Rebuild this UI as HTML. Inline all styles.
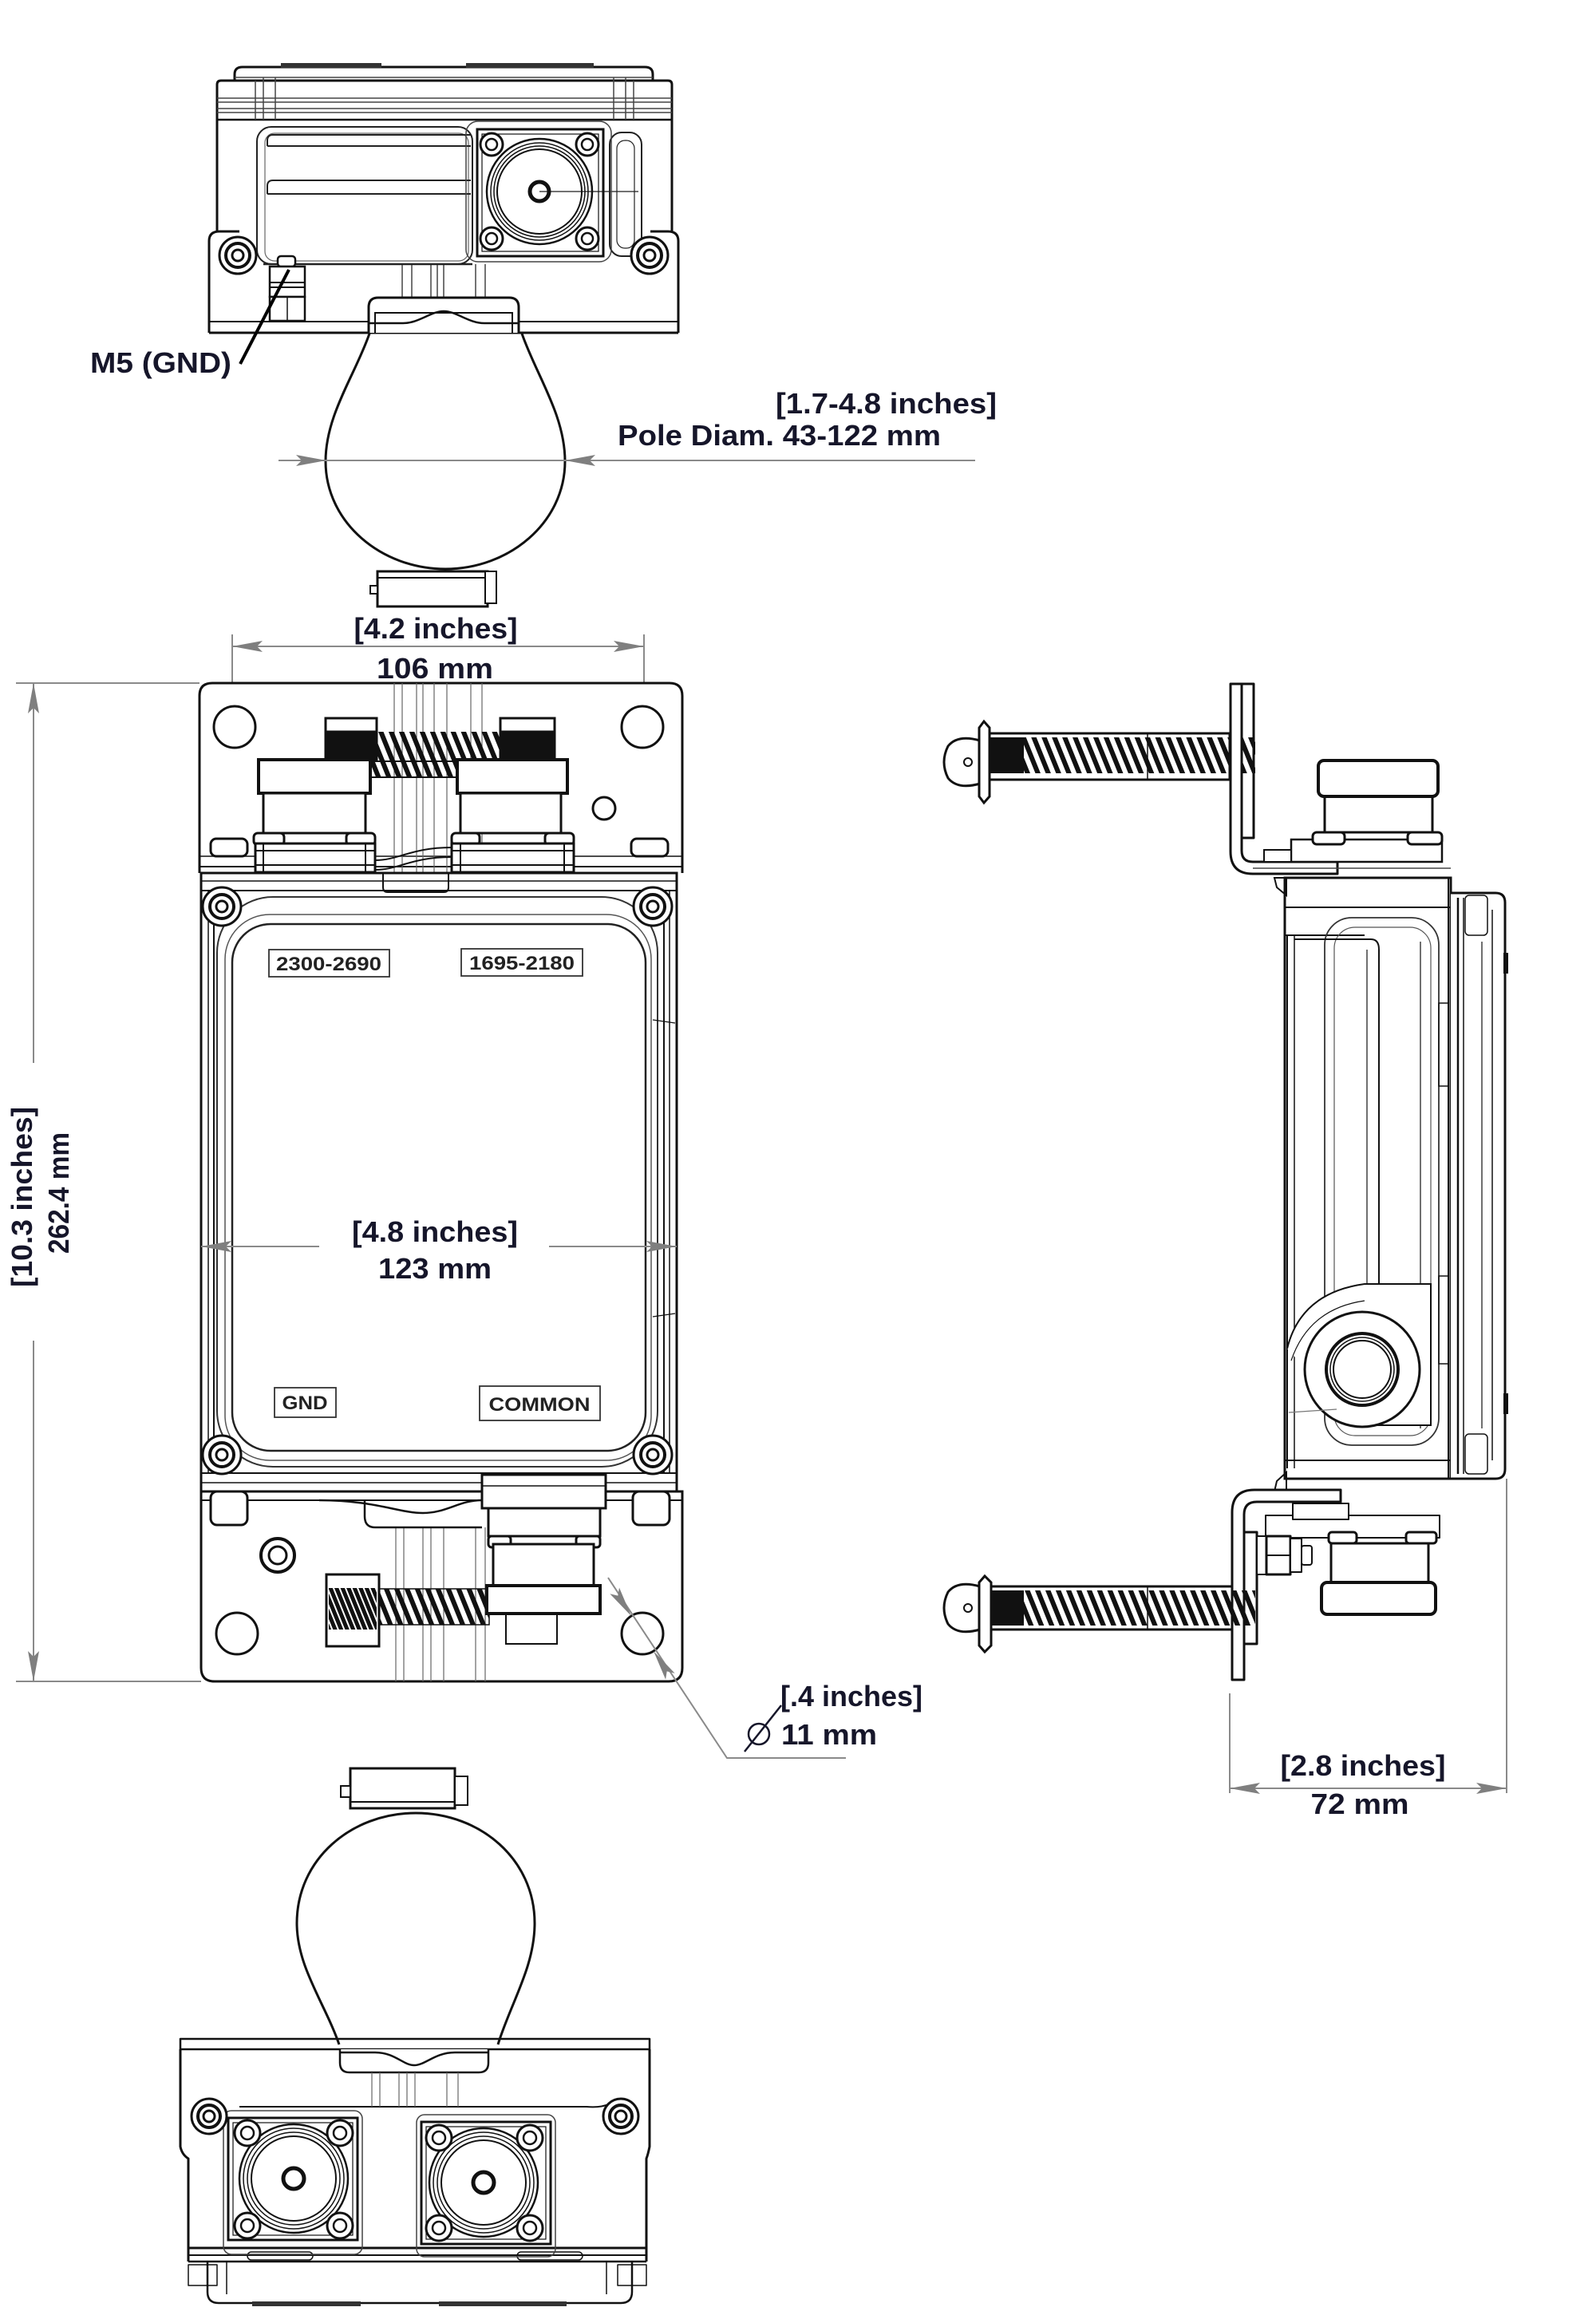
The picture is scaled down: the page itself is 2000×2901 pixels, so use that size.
<!DOCTYPE html>
<html><head><meta charset="utf-8">
<style>
html,body{margin:0;padding:0;background:#fff;}
svg{display:block;}
text{font-family:"Liberation Sans",Arial,sans-serif;font-weight:bold;fill:#16162a;}
.lbl{font-size:24px;fill:#222;}
.dim{font-size:36px;}
</style></head><body>
<svg width="2000" height="2901" viewBox="0 0 2000 2901" xmlns="http://www.w3.org/2000/svg">
<defs>
<pattern id="hatch" patternUnits="userSpaceOnUse" width="12" height="12" patternTransform="rotate(-22)">
<rect x="0" y="0" width="6" height="12" fill="#111"/>
</pattern>
<pattern id="hatchD" patternUnits="userSpaceOnUse" width="7" height="7" patternTransform="rotate(-22)">
<rect x="0" y="0" width="5" height="7" fill="#111"/>
</pattern>
</defs>

<!-- ================= TOP VIEW ================= -->
<g fill="none" stroke="#111" stroke-width="3" stroke-linejoin="round">
 <path d="M294,101 V93 Q294,84 304,84 H808 Q818,84 818,93 V101"/>
 <path d="M272,290 V106 Q272,101 277,101 H837 Q842,101 842,106 V290"/>
 <path d="M262,417 V302 Q262,290 275,290 H300"/>
 <path d="M850,417 V302 Q850,290 837,290 H815"/>
 <line x1="262" y1="417" x2="850" y2="417"/>
 <line x1="272" y1="150" x2="842" y2="150" stroke-width="2.5"/>
</g>
<rect x="352" y="79" width="126" height="6" fill="#333"/>
<rect x="584" y="79" width="160" height="6" fill="#333"/>
<g fill="none" stroke="#444" stroke-width="1.5">
 <line x1="294" y1="97" x2="818" y2="97"/>
 <line x1="272" y1="123" x2="842" y2="123"/>
 <line x1="272" y1="128" x2="842" y2="128"/>
 <line x1="272" y1="136" x2="842" y2="136"/>
 <line x1="272" y1="141" x2="842" y2="141"/>
 <line x1="320" y1="101" x2="320" y2="150"/>
 <line x1="330" y1="97" x2="330" y2="150"/>
 <line x1="345" y1="97" x2="345" y2="150"/>
 <line x1="794" y1="101" x2="794" y2="150"/>
 <line x1="784" y1="97" x2="784" y2="150"/>
 <line x1="769" y1="97" x2="769" y2="150"/>
 <line x1="262" y1="403" x2="850" y2="403" stroke="#111" stroke-width="2"/>
 <line x1="504" y1="331" x2="504" y2="373"/>
 <line x1="516" y1="331" x2="516" y2="373"/>
 <line x1="540" y1="331" x2="540" y2="373"/>
 <line x1="548" y1="331" x2="548" y2="373"/>
 <line x1="556" y1="331" x2="556" y2="373"/>
 <line x1="596" y1="331" x2="596" y2="373"/>
 <line x1="608" y1="331" x2="608" y2="373"/>
 <line x1="676" y1="240" x2="800" y2="240"/>
</g>
<!-- recess -->
<g fill="none" stroke="#222" stroke-width="2">
 <rect x="322" y="159" width="270" height="172" rx="18"/>
 <rect x="332" y="167" width="255" height="160" rx="12" stroke="#666" stroke-width="1.2"/>
 <path d="M335,183 V176 Q335,169 342,169 H590"/>
 <line x1="335" y1="183" x2="590" y2="183"/>
 <path d="M335,243 V233 Q335,226 342,226 H590"/>
 <line x1="335" y1="243" x2="590" y2="243"/>
 <line x1="330" y1="331" x2="592" y2="331" stroke-width="2.5"/>
 <rect x="764" y="166" width="40" height="155" rx="15"/>
 <rect x="773" y="176" width="22" height="135" rx="10" stroke-width="1.2"/>
</g>
<!-- connector -->
<g fill="none" stroke="#111">
 <rect x="584" y="152" width="182" height="176" rx="15" stroke-width="1.5" stroke="#444"/>
 <rect x="598" y="162" width="158" height="159" stroke-width="3"/>
 <rect x="604" y="168" width="146" height="147" stroke-width="1.2"/>
 <circle cx="676" cy="240" r="66" stroke-width="2.5"/>
 <circle cx="676" cy="240" r="61" stroke-width="1.5"/>
 <circle cx="676" cy="240" r="57" stroke-width="1.5"/>
 <circle cx="676" cy="240" r="53" stroke-width="2"/>
 <circle cx="676" cy="240" r="12" stroke-width="5"/>
 <g stroke-width="3" fill="#fff">
  <circle cx="616" cy="181" r="14"/><circle cx="736" cy="181" r="14"/>
  <circle cx="616" cy="299" r="14"/><circle cx="736" cy="299" r="14"/>
 </g>
 <g stroke-width="2.5">
  <circle cx="616" cy="181" r="7"/><circle cx="736" cy="181" r="7"/>
  <circle cx="616" cy="299" r="7"/><circle cx="736" cy="299" r="7"/>
 </g>
 <!-- ear screws -->
 <g fill="#fff">
  <circle cx="298" cy="320" r="23" stroke-width="3"/><circle cx="814" cy="320" r="23" stroke-width="3"/>
  <circle cx="298" cy="320" r="15" stroke-width="4"/><circle cx="814" cy="320" r="15" stroke-width="4"/>
  <circle cx="298" cy="320" r="7" stroke-width="3"/><circle cx="814" cy="320" r="7" stroke-width="3"/>
 </g>
 <!-- GND bolt -->
 <rect x="348" y="321" width="22" height="13" rx="4" stroke-width="2.5" fill="#fff"/>
 <rect x="338" y="334" width="44" height="38" stroke-width="2.5" fill="#fff"/>
 <line x1="338" y1="354" x2="382" y2="354" stroke-width="2"/>
 <line x1="338" y1="360" x2="382" y2="360" stroke-width="2"/>
 <rect x="338" y="372" width="44" height="30" stroke-width="2.5" fill="#fff"/>
 <line x1="360" y1="372" x2="360" y2="402" stroke-width="1.5"/>
 <!-- clamp -->
 <path d="M462,417 V385 Q462,373 474,373 H638 Q650,373 650,385 V417" stroke-width="3" fill="#fff"/>
 <path d="M470,417 V392 H642 V417" stroke-width="2"/>
 <path d="M462,405 H505 C525,405 540,390 556,390 C572,390 587,405 607,405 H650" stroke-width="2.5"/>
</g>
<!-- M5 leader -->
<line x1="301" y1="456" x2="362" y2="338" stroke="#000" stroke-width="4"/>
<text x="113" y="467" class="dim" textLength="177" lengthAdjust="spacingAndGlyphs">M5 (GND)</text>

<!-- top teardrop -->
<path d="M463,418 C445,470 408,520 408,578 C408,655 478,713 558,713 C638,713 708,655 708,578 C708,520 672,470 654,418" fill="none" stroke="#111" stroke-width="3"/>
<g fill="#fff" stroke="#111" stroke-width="3">
 <rect x="473" y="716" width="138" height="44"/>
 <rect x="464" y="734" width="9" height="10" stroke-width="2"/>
 <rect x="608" y="716" width="14" height="40" stroke-width="2"/>
</g>
<line x1="473" y1="724" x2="608" y2="724" stroke="#111" stroke-width="2"/>
<!-- pole dim -->
<line x1="349" y1="577" x2="1222" y2="577" stroke="#8a8a8a" stroke-width="2"/>
<polygon points="409,577 371,570 378,577 371,584" fill="#7f7f7f"/>
<polygon points="708,577 746,570 739,577 746,584" fill="#7f7f7f"/>
<text x="972" y="518" class="dim" textLength="277" lengthAdjust="spacingAndGlyphs">[1.7-4.8 inches]</text>
<text x="774" y="558" class="dim" textLength="405" lengthAdjust="spacingAndGlyphs">Pole Diam. 43-122 mm</text>

<!-- ================= FRONT VIEW ================= -->
<!-- 4.2 dim -->
<g stroke="#8a8a8a" stroke-width="2">
 <line x1="291" y1="810" x2="807" y2="810"/>
 <line x1="291" y1="795" x2="291" y2="911"/>
 <line x1="807" y1="795" x2="807" y2="911"/>
 <line x1="320" y1="911" x2="780" y2="911" stroke-width="1.2"/>
</g>
<polygon points="291,810 329,803 322,810 329,817" fill="#7f7f7f"/>
<polygon points="807,810 769,803 776,810 769,817" fill="#7f7f7f"/>
<text x="546" y="800" class="dim" text-anchor="middle" textLength="205" lengthAdjust="spacingAndGlyphs">[4.2 inches]</text>
<text x="545" y="850" class="dim" text-anchor="middle" textLength="146" lengthAdjust="spacingAndGlyphs">106 mm</text>

<!-- height dim -->
<g stroke="#8a8a8a" stroke-width="2">
 <line x1="20" y1="856" x2="250" y2="856"/>
 <line x1="20" y1="2107" x2="252" y2="2107"/>
 <line x1="42" y1="856" x2="42" y2="1332"/>
 <line x1="42" y1="1680" x2="42" y2="2107"/>
</g>
<polygon points="42,856 35,894 42,887 49,894" fill="#7f7f7f"/>
<polygon points="42,2107 35,2069 42,2076 49,2069" fill="#7f7f7f"/>
<text transform="translate(40,1500) rotate(-90)" class="dim" text-anchor="middle" textLength="226" lengthAdjust="spacingAndGlyphs">[10.3 inches]</text>
<text transform="translate(86,1495) rotate(-90)" class="dim" text-anchor="middle" textLength="152" lengthAdjust="spacingAndGlyphs">262.4 mm</text>

<!-- top plate -->
<g fill="none" stroke="#111" stroke-width="3">
 <path d="M250,1094 V872 Q250,856 266,856 H839 Q855,856 855,872 V1094" fill="#fff"/>
 <line x1="250" y1="1073" x2="855" y2="1073" stroke-width="1.5"/>
 <line x1="250" y1="1086" x2="855" y2="1086" stroke-width="2"/>
 <circle cx="294" cy="911" r="26"/>
 <circle cx="805" cy="911" r="26"/>
 <circle cx="757" cy="1013" r="14"/>
</g>
<g stroke="#666" stroke-width="1.2">
 <line x1="494" y1="856" x2="494" y2="1094"/><line x1="504" y1="856" x2="504" y2="1094"/>
 <line x1="522" y1="856" x2="522" y2="1094"/><line x1="530" y1="856" x2="530" y2="1094"/>
 <line x1="544" y1="856" x2="544" y2="1094"/><line x1="560" y1="856" x2="560" y2="1094"/>
 <line x1="590" y1="856" x2="590" y2="1094"/><line x1="604" y1="856" x2="604" y2="1094"/>
</g>
<!-- spring top -->
<rect x="466" y="917" width="171" height="57" fill="url(#hatch)"/>
<rect x="464" y="954" width="109" height="20" fill="none" stroke="#111" stroke-width="2"/>
<g stroke="#111" stroke-width="3">
 <rect x="408" y="900" width="64" height="53" fill="#fff"/>
 <rect x="410" y="917" width="60" height="36" fill="#111"/>
 <rect x="627" y="900" width="68" height="53" fill="#fff"/>
 <rect x="629" y="917" width="64" height="36" fill="#111"/>
 <rect x="324" y="952" width="140" height="42" fill="#fff" stroke-width="4"/>
 <rect x="573" y="952" width="138" height="42" fill="#fff" stroke-width="4"/>
 <rect x="330" y="994" width="128" height="50" fill="#fff"/>
 <rect x="577" y="994" width="126" height="50" fill="#fff"/>
 <rect x="318" y="1044" width="38" height="15" rx="5" fill="#fff"/>
 <rect x="434" y="1044" width="36" height="15" rx="5" fill="#fff"/>
 <rect x="566" y="1044" width="35" height="15" rx="5" fill="#fff"/>
 <rect x="683" y="1044" width="36" height="15" rx="5" fill="#fff"/>
 <rect x="320" y="1057" width="150" height="36" fill="#fff"/>
 <rect x="566" y="1057" width="153" height="36" fill="#fff"/>
 <rect x="264" y="1051" width="46" height="22" rx="7" fill="#fff"/>
 <rect x="791" y="1051" width="46" height="22" rx="7" fill="#fff"/>
</g>
<g stroke="#111" stroke-width="2" fill="none">
 <line x1="320" y1="1066" x2="470" y2="1066"/><line x1="320" y1="1084" x2="470" y2="1084"/>
 <line x1="566" y1="1066" x2="719" y2="1066"/><line x1="566" y1="1084" x2="719" y2="1084"/>
 <line x1="330" y1="1057" x2="330" y2="1093"/><line x1="458" y1="1057" x2="458" y2="1093"/>
 <line x1="577" y1="1057" x2="577" y2="1093"/><line x1="707" y1="1057" x2="707" y2="1093"/>
 <path d="M470,1078 C500,1078 515,1062 566,1062"/>
 <path d="M470,1090 C500,1090 515,1074 566,1074"/>
 <path d="M480,1093 V1112 Q480,1118 486,1118 H556 Q562,1118 562,1112 V1093"/>
</g>

<!-- housing -->
<g fill="none" stroke="#111">
 <rect x="252" y="1094" width="596" height="777" stroke-width="3"/>
 <line x1="252" y1="1104" x2="848" y2="1104" stroke-width="1.5"/>
 <line x1="252" y1="1116" x2="848" y2="1116" stroke-width="2"/>
 <line x1="252" y1="1846" x2="848" y2="1846" stroke-width="2"/>
 <line x1="252" y1="1858" x2="848" y2="1858" stroke-width="1.5"/>
 <line x1="261" y1="1116" x2="261" y2="1846" stroke-width="1.5"/>
 <line x1="268" y1="1116" x2="268" y2="1846" stroke-width="2"/>
 <line x1="832" y1="1116" x2="832" y2="1846" stroke-width="2"/>
 <line x1="839" y1="1116" x2="839" y2="1846" stroke-width="1.5"/>
 <rect x="272" y="1124" width="552" height="714" rx="70" stroke-width="2" stroke="#333"/>
 <rect x="282" y="1146" width="534" height="684" rx="56" stroke-width="1.5" stroke="#555"/>
 <rect x="291" y="1158" width="518" height="660" rx="48" stroke-width="2.5" stroke="#222"/>
 <line x1="818" y1="1278" x2="846" y2="1282" stroke-width="1.2"/>
 <line x1="818" y1="1650" x2="846" y2="1646" stroke-width="1.2"/>
 <g fill="#fff">
  <circle cx="278" cy="1136" r="24" stroke-width="3"/><circle cx="818" cy="1136" r="24" stroke-width="3"/>
  <circle cx="278" cy="1823" r="24" stroke-width="3"/><circle cx="818" cy="1823" r="24" stroke-width="3"/>
  <circle cx="278" cy="1136" r="15" stroke-width="4"/><circle cx="818" cy="1136" r="15" stroke-width="4"/>
  <circle cx="278" cy="1823" r="15" stroke-width="4"/><circle cx="818" cy="1823" r="15" stroke-width="4"/>
  <circle cx="278" cy="1136" r="7" stroke-width="3"/><circle cx="818" cy="1136" r="7" stroke-width="3"/>
  <circle cx="278" cy="1823" r="7" stroke-width="3"/><circle cx="818" cy="1823" r="7" stroke-width="3"/>
 </g>
</g>
<!-- labels -->
<g fill="#fff" stroke="#333" stroke-width="1.8">
 <rect x="337" y="1190" width="151" height="34"/>
 <rect x="578" y="1189" width="152" height="34"/>
 <rect x="344" y="1739" width="77" height="37"/>
 <rect x="601" y="1737" width="151" height="43"/>
</g>
<text x="412" y="1216" class="lbl" text-anchor="middle" textLength="132" lengthAdjust="spacingAndGlyphs">2300-2690</text>
<text x="654" y="1215" class="lbl" text-anchor="middle" textLength="132" lengthAdjust="spacingAndGlyphs">1695-2180</text>
<text x="382" y="1766" class="lbl" text-anchor="middle" textLength="57" lengthAdjust="spacingAndGlyphs">GND</text>
<text x="676" y="1768" class="lbl" text-anchor="middle" textLength="127" lengthAdjust="spacingAndGlyphs">COMMON</text>
<!-- 4.8 dim -->
<g stroke="#8a8a8a" stroke-width="2">
 <line x1="252" y1="1562" x2="400" y2="1562"/>
 <line x1="688" y1="1562" x2="848" y2="1562"/>
</g>
<polygon points="252,1562 290,1555 283,1562 290,1569" fill="#7f7f7f"/>
<polygon points="848,1562 810,1555 817,1562 810,1569" fill="#7f7f7f"/>
<text x="545" y="1556" class="dim" text-anchor="middle" textLength="208" lengthAdjust="spacingAndGlyphs">[4.8 inches]</text>
<text x="545" y="1602" class="dim" text-anchor="middle" textLength="142" lengthAdjust="spacingAndGlyphs">123 mm</text>

<!-- bottom plate -->
<g fill="none" stroke="#111" stroke-width="3">
 <path d="M252,1869 V2090 Q252,2107 269,2107 H838 Q855,2107 855,2090 V1869 Z" fill="#fff"/>
 <line x1="252" y1="1880" x2="855" y2="1880" stroke-width="2"/>
 <circle cx="297" cy="2047" r="26"/>
 <circle cx="805" cy="2047" r="26"/>
 <circle cx="348" cy="1949" r="21" stroke-width="4"/>
 <circle cx="348" cy="1949" r="11"/>
</g>
<g stroke="#666" stroke-width="1.2">
 <line x1="496" y1="1914" x2="496" y2="2107"/><line x1="506" y1="1914" x2="506" y2="2107"/>
 <line x1="530" y1="1914" x2="530" y2="2107"/><line x1="540" y1="1914" x2="540" y2="2107"/>
 <line x1="556" y1="1914" x2="556" y2="2107"/><line x1="596" y1="1914" x2="596" y2="2107"/>
 <line x1="608" y1="1914" x2="608" y2="2107"/>
</g>
<g fill="#fff" stroke="#111" stroke-width="3">
 <rect x="264" y="1869" width="46" height="42" rx="8"/>
 <rect x="793" y="1869" width="46" height="42" rx="8"/>
 <path d="M457,1880 V1900 Q457,1914 470,1914 H604" fill="none" stroke-width="2.5"/>
 <rect x="604" y="1848" width="155" height="42"/>
 <rect x="612" y="1890" width="140" height="35"/>
 <rect x="612" y="1925" width="28" height="14" rx="4"/>
 <rect x="722" y="1925" width="30" height="14" rx="4"/>
 <rect x="618" y="1935" width="126" height="52"/>
 <rect x="634" y="2022" width="64" height="38" stroke-width="2"/>
</g>
<path d="M400,1880 C470,1880 500,1896 530,1896 C560,1896 575,1880 604,1880" fill="none" stroke="#111" stroke-width="2.5"/>
<line x1="604" y1="1862" x2="759" y2="1862" stroke="#111" stroke-width="1.5"/>
<rect x="475" y="1991" width="138" height="45" fill="url(#hatch)"/>
<rect x="475" y="1991" width="138" height="45" fill="none" stroke="#111" stroke-width="1.5"/>
<rect x="409" y="1973" width="66" height="90" fill="#fff" stroke="#111" stroke-width="3"/>
<rect x="412" y="1990" width="60" height="52" fill="url(#hatchD)"/>
<rect x="610" y="1987" width="142" height="35" fill="#fff" stroke="#111" stroke-width="4"/>

<!-- hole dim -->
<polyline points="762,1977 911,2203 1060,2203" fill="none" stroke="#8a8a8a" stroke-width="2"/>
<polygon points="791,2025 764.3,1997.2 774.3,1999.6 776,1989.5" fill="#7f7f7f"/>
<polygon points="819,2069 845.7,2096.9 835.7,2094.4 834.1,2104.6" fill="#7f7f7f"/>
<text x="978" y="2138" class="dim" textLength="178" lengthAdjust="spacingAndGlyphs">[.4 inches]</text>
<circle cx="951" cy="2173" r="13" fill="none" stroke="#16162a" stroke-width="2.5"/>
<line x1="933" y1="2195" x2="979" y2="2137" stroke="#16162a" stroke-width="2.5"/>
<text x="979" y="2186" class="dim" textLength="120" lengthAdjust="spacingAndGlyphs">11 mm</text>

<!-- ================= SIDE VIEW ================= -->
<!-- upper bolt -->
<g stroke="#111" stroke-width="3">
 <rect x="1240" y="919" width="301" height="58" fill="#fff"/>
 <rect x="1243" y="924" width="330" height="45" fill="url(#hatch)" stroke="none"/>
 <rect x="1241" y="924" width="42" height="45" fill="#111" stroke="none"/>
 <line x1="1438" y1="919" x2="1438" y2="977" stroke-width="1.5"/>
 <path d="M1228,928 Q1200,920 1188,935 Q1178,955 1188,975 Q1200,990 1228,982 Z" fill="#fff"/>
 <circle cx="1213" cy="955" r="5" fill="none" stroke-width="2"/>
 <path d="M1227,912 L1233,904 L1240,912 V998 L1233,1006 L1227,998 Z" fill="#fff"/>
</g>
<!-- upper bracket -->
<g fill="#fff" stroke="#111" stroke-width="3" stroke-linejoin="round">
 <path d="M1542,857 H1556 V1066 Q1556,1080 1570,1080 H1676 V1095 H1570 Q1542,1095 1542,1067 Z"/>
 <rect x="1556" y="857" width="15" height="193"/>
</g>
<rect x="1556" y="924" width="15" height="45" fill="url(#hatch)"/>
<!-- top connector side -->
<g fill="#fff" stroke="#111" stroke-width="3">
 <rect x="1618" y="1052" width="189" height="28" stroke-width="2.5"/>
 <rect x="1584" y="1065" width="34" height="15" stroke-width="2"/>
 <rect x="1645" y="1043" width="40" height="15" rx="5"/>
 <rect x="1764" y="1043" width="43" height="15" rx="5"/>
 <rect x="1660" y="996" width="135" height="47"/>
 <rect x="1652" y="953" width="150" height="45" rx="7" stroke-width="4"/>
</g>
<line x1="1570" y1="1088" x2="1818" y2="1088" stroke="#444" stroke-width="1.5"/>
<!-- body -->
<g fill="none" stroke="#111">
 <rect x="1610" y="1100" width="208" height="753" stroke-width="3" fill="#fff"/>
 <line x1="1613" y1="1172" x2="1613" y2="1840" stroke-width="2"/>
 <line x1="1622" y1="1172" x2="1622" y2="1840" stroke-width="1.5"/>
 <line x1="1610" y1="1137" x2="1818" y2="1137" stroke-width="2"/>
 <line x1="1610" y1="1172" x2="1710" y2="1172" stroke-width="2"/>
 <line x1="1610" y1="1830" x2="1818" y2="1830" stroke-width="2"/>
 <path d="M1597,1100 H1612 V1122 L1600,1112 Z" stroke-width="2"/>
 <path d="M1597,1869 H1612 V1845 L1600,1856 Z" stroke-width="2"/>
 <rect x="1660" y="1150" width="143" height="661" rx="34" stroke-width="1.8" stroke="#333"/>
 <rect x="1672" y="1162" width="121" height="637" rx="26" stroke-width="1.2" stroke="#555"/>
 <path d="M1622,1177 H1718 Q1728,1177 1728,1190 V1612" stroke-width="2"/>
 <line x1="1713" y1="1190" x2="1713" y2="1612" stroke-width="1.2"/>
 <line x1="1780" y1="1180" x2="1780" y2="1790" stroke-width="1.2"/>
 <line x1="1815" y1="1100" x2="1815" y2="1853" stroke-width="2"/>
 <rect x="1803" y="1257" width="12" height="104" stroke-width="1.5"/>
 <rect x="1803" y="1599" width="12" height="110" stroke-width="1.5"/>
 <path d="M1613,1690 Q1630,1620 1710,1609 H1793 V1786 H1700" stroke-width="2" fill="#fff"/>
 <path d="M1618,1705 Q1640,1640 1710,1630" stroke-width="1.2"/>
 <circle cx="1707" cy="1716" r="72" stroke-width="3" fill="#fff"/>
 <circle cx="1707" cy="1716" r="45" stroke-width="4"/>
 <circle cx="1707" cy="1716" r="40" stroke-width="1.5"/>
 <circle cx="1707" cy="1716" r="36" stroke-width="2"/>
 <line x1="1615" y1="1770" x2="1675" y2="1766" stroke-width="1.2" stroke="#777"/>
</g>
<!-- lid -->
<g fill="none" stroke="#111">
 <path d="M1818,1119 H1874 Q1886,1119 1886,1131 V1841 Q1886,1853 1874,1853 H1818" stroke-width="3" fill="#fff"/>
 <line x1="1827" y1="1125" x2="1827" y2="1847" stroke-width="2.5"/>
 <line x1="1834" y1="1125" x2="1834" y2="1847" stroke-width="1.5"/>
 <line x1="1857" y1="1180" x2="1857" y2="1790" stroke-width="1.2"/>
 <line x1="1870" y1="1140" x2="1870" y2="1830" stroke-width="1.5"/>
 <rect x="1836" y="1122" width="28" height="50" rx="5" stroke-width="1.5"/>
 <rect x="1836" y="1797" width="28" height="50" rx="5" stroke-width="1.5"/>
</g>
<rect x="1884" y="1194" width="6" height="26" fill="#111"/>
<rect x="1884" y="1746" width="6" height="26" fill="#111"/>

<!-- lower bracket -->
<g fill="#fff" stroke="#111" stroke-width="3" stroke-linejoin="round">
 <rect x="1586" y="1899" width="218" height="28" stroke-width="2"/>
 <rect x="1620" y="1884" width="70" height="20" stroke-width="2"/>
 <path d="M1680,1867 H1572 Q1544,1867 1544,1895 V2105 H1559 V1898 Q1559,1882 1575,1882 H1680 Z"/>
 <rect x="1559" y="1920" width="16" height="140"/>
 <rect x="1575" y="1925" width="12" height="48" stroke-width="2"/>
 <rect x="1587" y="1925" width="30" height="48" stroke-width="3"/>
 <line x1="1587" y1="1949" x2="1617" y2="1949" stroke-width="2"/>
 <rect x="1617" y="1928" width="14" height="42" stroke-width="2"/>
 <rect x="1631" y="1937" width="13" height="24" rx="3" stroke-width="2"/>
 <rect x="1665" y="1920" width="35" height="14" rx="4"/>
 <rect x="1762" y="1920" width="38" height="14" rx="4"/>
 <rect x="1668" y="1934" width="122" height="50"/>
 <rect x="1656" y="1983" width="143" height="40" rx="7" stroke-width="4"/>
</g>
<!-- lower bolt -->
<g stroke="#111" stroke-width="3">
 <rect x="1242" y="1988" width="302" height="54" fill="#fff"/>
 <rect x="1245" y="1993" width="328" height="44" fill="url(#hatch)" stroke="none"/>
 <rect x="1243" y="1993" width="40" height="44" fill="#111" stroke="none"/>
 <line x1="1438" y1="1988" x2="1438" y2="2042" stroke-width="1.5"/>
 <path d="M1228,1988 Q1200,1980 1188,1995 Q1178,2015 1188,2035 Q1200,2050 1228,2042 Z" fill="#fff"/>
 <circle cx="1213" cy="2015" r="5" fill="none" stroke-width="2"/>
 <path d="M1227,1983 L1234,1975 L1242,1983 V2062 L1234,2070 L1227,2062 Z" fill="#fff"/>
</g>

<!-- 2.8 dim -->
<g stroke="#8a8a8a" stroke-width="2">
 <line x1="1541" y1="2122" x2="1541" y2="2247"/>
 <line x1="1888" y1="1853" x2="1888" y2="2247"/>
 <line x1="1541" y1="2241" x2="1888" y2="2241"/>
</g>
<polygon points="1541,2241 1579,2234 1572,2241 1579,2248" fill="#7f7f7f"/>
<polygon points="1888,2241 1850,2234 1857,2241 1850,2248" fill="#7f7f7f"/>
<text x="1708" y="2225" class="dim" text-anchor="middle" textLength="207" lengthAdjust="spacingAndGlyphs">[2.8 inches]</text>
<text x="1704" y="2273" class="dim" text-anchor="middle" textLength="123" lengthAdjust="spacingAndGlyphs">72 mm</text>

<!-- ================= BOTTOM VIEW ================= -->
<g fill="#fff" stroke="#111" stroke-width="3">
 <rect x="439" y="2216" width="131" height="50"/>
 <rect x="427" y="2238" width="12" height="14" stroke-width="2"/>
 <rect x="570" y="2226" width="16" height="36" stroke-width="2"/>
</g>
<line x1="439" y1="2258" x2="570" y2="2258" stroke="#111" stroke-width="2"/>
<path d="M425,2562 C407,2510 372,2465 372,2410 C372,2330 440,2272 521,2272 C602,2272 670,2330 670,2410 C670,2465 640,2510 624,2562" fill="none" stroke="#111" stroke-width="3"/>

<g fill="none" stroke="#111" stroke-width="3" stroke-linejoin="round">
 <rect x="226" y="2555" width="588" height="13" stroke-width="2.5"/>
 <path d="M226,2568 V2690 Q228,2700 236,2705 V2834"/>
 <path d="M814,2568 V2690 Q812,2700 810,2705 V2834"/>
 <line x1="236" y1="2817" x2="810" y2="2817" stroke-width="3"/>
 <line x1="236" y1="2826" x2="810" y2="2826" stroke-width="2"/>
 <line x1="236" y1="2834" x2="810" y2="2834" stroke-width="2.5"/>
 <path d="M260,2834 V2872 Q260,2886 274,2886 H778 Q792,2886 792,2872 V2834" stroke-width="2.5"/>
 <line x1="284" y1="2834" x2="284" y2="2875" stroke-width="1.5"/>
 <line x1="760" y1="2834" x2="760" y2="2875" stroke-width="1.5"/>
 <rect x="236" y="2838" width="36" height="26" stroke-width="1.5"/>
 <rect x="774" y="2838" width="36" height="26" stroke-width="1.5"/>
 <rect x="310" y="2822" width="82" height="10" rx="5" stroke-width="1.5"/>
 <rect x="648" y="2822" width="82" height="10" rx="5" stroke-width="1.5"/>
 <path d="M426,2568 V2585 Q426,2597 438,2597 H600 Q612,2597 612,2585 V2568" stroke-width="2.5" fill="#fff"/>
 <path d="M426,2572 H470 C495,2572 505,2588 519,2588 C533,2588 545,2572 570,2572 H612" stroke-width="2.5"/>
 <path d="M300,2640 H735 Q760,2642 770,2632" stroke-width="2"/>
</g>
<rect x="316" y="2884" width="136" height="6" fill="#333"/>
<rect x="550" y="2884" width="160" height="6" fill="#333"/>
<g stroke="#666" stroke-width="1.2">
 <line x1="466" y1="2597" x2="466" y2="2640"/><line x1="476" y1="2597" x2="476" y2="2640"/>
 <line x1="500" y1="2597" x2="500" y2="2640"/><line x1="510" y1="2597" x2="510" y2="2640"/>
 <line x1="520" y1="2597" x2="520" y2="2640"/><line x1="560" y1="2597" x2="560" y2="2640"/>
 <line x1="574" y1="2597" x2="574" y2="2640"/>
</g>
<!-- bottom connectors -->
<g fill="none" stroke="#111">
 <rect x="280" y="2645" width="174" height="180" rx="10" stroke-width="1.5" stroke="#444"/>
 <rect x="522" y="2650" width="174" height="178" rx="10" stroke-width="1.5" stroke="#444"/>
 <rect x="286" y="2654" width="162" height="153" stroke-width="3"/>
 <rect x="292" y="2660" width="150" height="141" stroke-width="1.2"/>
 <rect x="528" y="2659" width="162" height="153" stroke-width="3"/>
 <rect x="534" y="2665" width="150" height="141" stroke-width="1.2"/>
 <g>
  <circle cx="368" cy="2730" r="68" stroke-width="2.5"/>
  <circle cx="368" cy="2730" r="63" stroke-width="1.5"/>
  <circle cx="368" cy="2730" r="58" stroke-width="1.5"/>
  <circle cx="368" cy="2730" r="53" stroke-width="2"/>
  <circle cx="368" cy="2730" r="13" stroke-width="5"/>
  <circle cx="606" cy="2735" r="68" stroke-width="2.5"/>
  <circle cx="606" cy="2735" r="63" stroke-width="1.5"/>
  <circle cx="606" cy="2735" r="58" stroke-width="1.5"/>
  <circle cx="606" cy="2735" r="53" stroke-width="2"/>
  <circle cx="606" cy="2735" r="13" stroke-width="5"/>
 </g>
 <g fill="#fff" stroke-width="3">
  <circle cx="310" cy="2673" r="16"/><circle cx="426" cy="2673" r="16"/>
  <circle cx="310" cy="2789" r="16"/><circle cx="426" cy="2789" r="16"/>
  <circle cx="550" cy="2679" r="16"/><circle cx="664" cy="2679" r="16"/>
  <circle cx="550" cy="2792" r="16"/><circle cx="664" cy="2792" r="16"/>
 </g>
 <g stroke-width="2.5">
  <circle cx="310" cy="2673" r="8"/><circle cx="426" cy="2673" r="8"/>
  <circle cx="310" cy="2789" r="8"/><circle cx="426" cy="2789" r="8"/>
  <circle cx="550" cy="2679" r="8"/><circle cx="664" cy="2679" r="8"/>
  <circle cx="550" cy="2792" r="8"/><circle cx="664" cy="2792" r="8"/>
 </g>
 <g fill="#fff">
  <circle cx="262" cy="2652" r="22" stroke-width="3"/><circle cx="778" cy="2652" r="22" stroke-width="3"/>
  <circle cx="262" cy="2652" r="14" stroke-width="4"/><circle cx="778" cy="2652" r="14" stroke-width="4"/>
  <circle cx="262" cy="2652" r="7" stroke-width="3"/><circle cx="778" cy="2652" r="7" stroke-width="3"/>
 </g>
</g>
</svg>
</body></html>
